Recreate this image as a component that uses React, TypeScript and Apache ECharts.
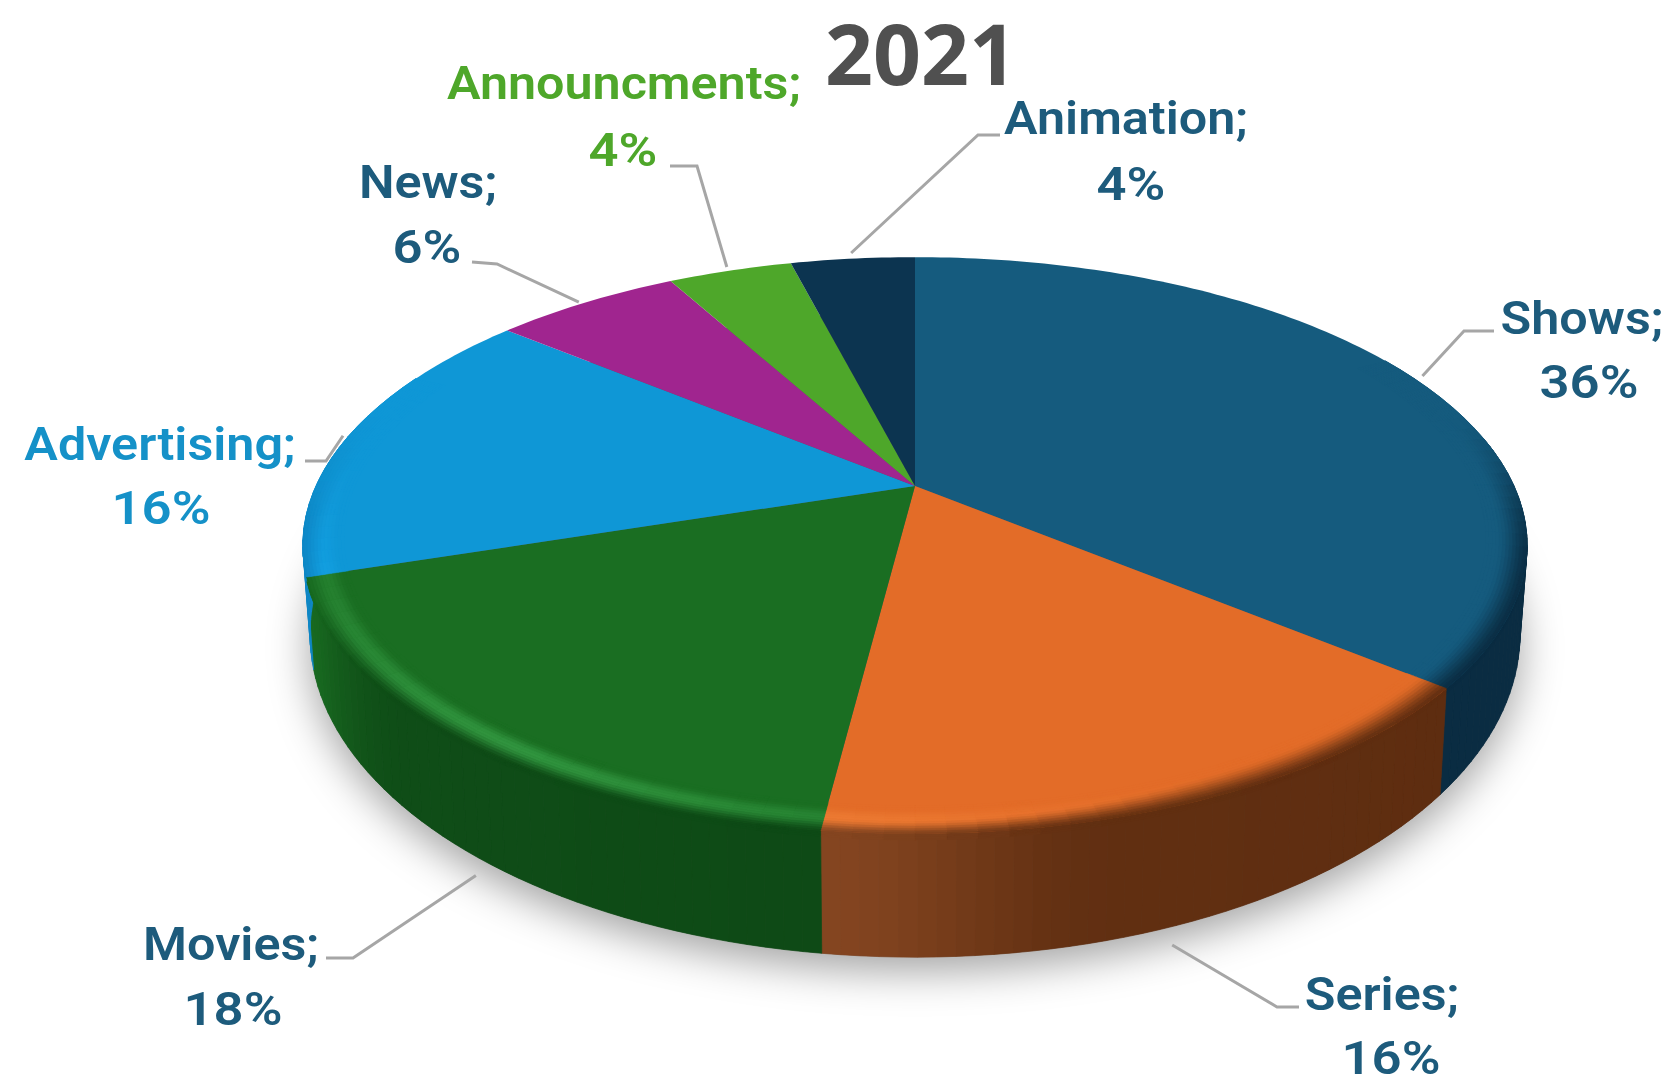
import React, { useEffect, useRef } from "react";
import * as echarts from "echarts";

const titleText = "2021";
const categories = ["Shows", "Series", "Movies", "Advertising", "News", "Announcments", "Animation"];
const values = [36, 16, 18, 16, 6, 4, 4];

const topColors = ["#155b7e", "#e36c28", "#1a6e22", "#0f97d6", "#a0258f", "#4ea72a", "#0c3450"];
const glowColors = ["#155b7e", "#f4843a", "#31953f", "#16a8ee", "#a0258f", "#4ea72a", "#0c3450"];
const wallStart = ["#0a2c42", "#5e2d10", "#0e4a16", "#0e86c4", "#6a1a60", "#33701c", "#081f30"];
const wallEnd = ["#0a2c42", "#844520", "#186a20", "#12a5e8", "#6a1a60", "#33701c", "#081f30"];
const labelColors = ["#1d5b7c", "#1d5b7c", "#1d5b7c", "#1591c8", "#1d5b7c", "#4ea72a", "#1d5b7c"];
// n: name centre, v: percent centre, e: leader elbow, f: leader end, a: leader anchor [radius, wall fraction, angle shift]
const labelLayout = [
  { n: [1582, 318], v: [1589, 382], e: [1464, 331], f: [1494, 331], a: [1.02, 0, 0] },
  { n: [1382, 994], v: [1391, 1058], e: [1277, 1007], f: [1299, 1007], a: [1.035, 1, 2] },
  { n: [231, 944], v: [233, 1009], e: [353, 958], f: [326, 958], a: [1.03, 1, -2.9] },
  { n: [160, 444], v: [161, 508], e: [326, 461], f: [305, 461], a: [1.01, 0, 0] },
  { n: [428, 182], v: [427, 247], e: [497, 264], f: [472, 262], a: [1.01, 0, -0.5] },
  { n: [624, 83], v: [623, 150], e: [697, 166], f: [670, 166], a: [1.02, 0, 0] },
  { n: [1126, 118], v: [1131, 184], e: [978, 135], f: [1000, 135], a: [1.03, 0, 0] },
];

const cx = 915;
const p = 0.206;
const TOP = { a: 599, b: 276, cy: 486 };
const BOT = { a: 592, b: 309, cy: 568 };
const RIM_IN = 0.05;
const RIM_OUT = 0.13;
const RIM_FROM = -1.3;
const RIM_TO = 0.4;
const RIM_LEVELS = 16;
const total = values.reduce((s, v) => s + v, 0);

function onEllipse(e: typeof TOP, deg: number, r: number) {
  const th = (deg * Math.PI) / 180;
  const s = Math.sin(th) * r;
  const c = Math.cos(th) * r;
  const w = 1 + p * c;
  return [cx + (e.a * s) / w, e.cy - (e.b * c) / w];
}
function pt(deg: number, r: number, t: number) {
  const a = onEllipse(TOP, deg, r);
  if (!t) return a;
  const b = onEllipse(BOT, deg, r);
  return [a[0] + (b[0] - a[0]) * t, a[1] + (b[1] - a[1]) * t];
}
function rgb(h: string) {
  return [1, 3, 5].map((i) => parseInt(h.slice(i, i + 2), 16));
}
function mix(a: string, b: string, k: number) {
  const x = rgb(a), y = rgb(b);
  const q = x.map((v, i) => Math.round(v + (y[i] - v) * k));
  return "#" + q.map((v) => v.toString(16).padStart(2, "0")).join("");
}
const clamp = (v: number) => Math.max(0, Math.min(1, v));
const smooth = (a: number, b: number, v: number) => {
  const t = clamp((v - a) / (b - a));
  return t * t * (3 - 2 * t);
};

function rimColor(i: number, deg: number, s: number, wall: string) {
  const top = topColors[i];
  const h = clamp(1 - Math.abs(deg - 215) / 62);
  const k = smooth(72, 108, deg) * (1 - smooth(258, 288, deg));
  const edge = mix(top, wall, k);
  const glow = mix(top, glowColors[i], h * k);
  const rise = smooth(-1.15, -0.62, s);
  const fallStart = -1.0 + 0.42 * smooth(0, 0.5, h);
  const fall = smooth(fallStart, 0.1, s);
  return mix(mix(top, glow, rise), edge, fall);
}

function renderSlice(params: any, api: any) {
  const i = params.dataIndex;
  const v = api.value(0);
  let before = 0;
  for (let k = 0; k < i; k++) before += values[k];
  const a0 = (before / total) * 360;
  const a1 = ((before + v) / total) * 360;
  const children: any[] = [];

  if (i === 0) {
    const ring: number[][] = [];
    for (let d = 0; d < 360; d += 2) ring.push(onEllipse(BOT, d, 1));
    children.push({
      type: "polygon",
      z2: 0,
      shape: { points: ring },
      style: { fill: "#5a5a5a", shadowBlur: 42, shadowOffsetY: 14, shadowColor: "rgba(0,0,0,0.36)" },
    });
  }

  // side wall
  const wLo = Math.max(a0, 80);
  const wHi = Math.min(a1, 285);
  const wallAt = (d: number) => {
    const q = (d - a0) / (a1 - a0);
    return mix(wallStart[i], wallEnd[i], smooth(0.62, 1, q) * 0.85 + 0.15 * q);
  };
  if (wHi > wLo) {
    const n = Math.ceil((wHi - wLo) / 1.5);
    for (let c = 0; c < n; c++) {
      const d0 = wLo + ((wHi - wLo) * c) / n;
      const d1 = wLo + ((wHi - wLo) * (c + 1)) / n;
      const wall = wallAt((d0 + d1) / 2);
      children.push({
        type: "polygon",
        z2: 1,
        shape: { points: [pt(d0, 1, 0), pt(d1, 1, 0), pt(d1, 1, 1), pt(d0, 1, 1)] },
        style: { fill: wall, stroke: wall, lineWidth: 0.7 },
      });
    }
  }

  // flat top
  const flat: number[][] = [[cx, TOP.cy]];
  const steps = Math.ceil(a1 - a0);
  for (let j = 0; j <= steps; j++) flat.push(pt(a0 + ((a1 - a0) * j) / steps, 1, 0));
  children.push({ type: "polygon", z2: 3, shape: { points: flat }, style: { fill: topColors[i] } });

  // rounded rim: inner strips on the top, outer strips on the wall
  const rLo = Math.max(a0, 60);
  const rHi = Math.min(a1, 295);
  if (rHi > rLo) {
    const n = Math.ceil((rHi - rLo) / 2.5);
    for (let c = 0; c < n; c++) {
      const d0 = rLo + ((rHi - rLo) * c) / n;
      const d1 = rLo + ((rHi - rLo) * (c + 1)) / n;
      const mid = (d0 + d1) / 2;
      const wall = wallAt(Math.max(wLo, Math.min(wHi, mid)));
      const geo = (d: number, s: number) =>
        s <= 0 ? pt(d, 1 + s * RIM_IN, 0) : pt(d, 1, s * RIM_OUT);
      const ds = (RIM_TO - RIM_FROM) / RIM_LEVELS;
      for (let l = 0; l < RIM_LEVELS; l++) {
        const s0 = RIM_FROM + ds * l;
        const s1 = s0 + ds;
        const spans = s0 < 0 && s1 > 0;
        const bands = spans ? [[s0, 0], [0, s1]] : [[s0, s1]];
        const col = rimColor(i, mid, (s0 + s1) / 2, wall);
        for (const b of bands) {
          children.push({
            type: "polygon",
            z2: b[1] <= 0 ? 4 : 2,
            shape: { points: [geo(d0, b[0]), geo(d1, b[0]), geo(d1, b[1]), geo(d0, b[1])] },
            style: { fill: col, stroke: col, lineWidth: 0.6 },
          });
        }
      }
    }
  }

  // leader line and labels
  const lay = labelLayout[i];
  const midDeg = (a0 + a1) / 2 + lay.a[2];
  children.push({
    type: "polyline",
    z2: 5,
    shape: { points: [pt(midDeg, lay.a[0], lay.a[1]), lay.e, lay.f] },
    style: { fill: "none", stroke: "#a6a6a6", lineWidth: 3 },
  });
  const labelText = (text: string, pos: number[], sx: number) => ({
    type: "text",
    z2: 6,
    x: pos[0],
    y: pos[1],
    scaleX: sx,
    style: {
      text,
      fill: labelColors[i],
      font: '600 47px Roboto, "Noto Sans", sans-serif',
      align: "center",
      verticalAlign: "middle",
    },
  });
  children.push(labelText(`${categories[i]};`, lay.n, 1.07));
  children.push(labelText(`${v}%`, lay.v, 1.12));
  return { type: "group", children };
}

export default function App() {
  const ref = useRef<HTMLDivElement>(null);
  useEffect(() => {
    const chart = echarts.init(ref.current!, undefined, { renderer: "svg" });
    chart.setOption({
      animation: false,
      backgroundColor: "#ffffff",
      title: {
        text: titleText,
        left: 916,
        top: 5,
        textAlign: "center",
        textStyle: { color: "#505050", fontSize: 84, fontWeight: "bold", fontFamily: '"Noto Sans", sans-serif' },
      },
      series: [
        {
          type: "custom",
          coordinateSystem: "none",
          silent: true,
          clip: false,
          data: values.map((v, i) => ({ name: categories[i], value: v })),
          renderItem: renderSlice,
        },
      ],
    });
    return () => chart.dispose();
  }, []);
  return <div ref={ref} style={{ position: "fixed", left: 0, top: 0, width: 1676, height: 1081 }} />;
}
